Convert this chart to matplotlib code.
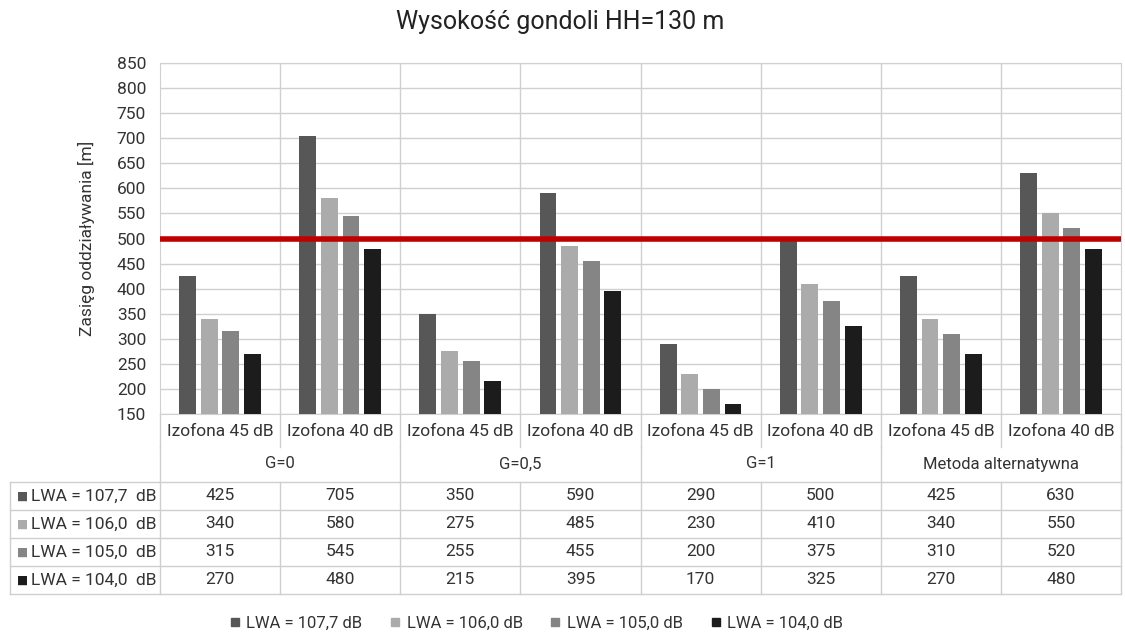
import matplotlib.pyplot as plt
import matplotlib.transforms as mtransforms
import numpy as np

plt.rcParams['font.family'] = ['Roboto', 'DejaVu Sans']

# dane
kategorie = ['Izofona 45 dB', 'Izofona 40 dB'] * 4
grupy = ['G=0', 'G=0,5', 'G=1', 'Metoda alternatywna']
serie = ['LWA = 107,7  dB', 'LWA = 106,0  dB', 'LWA = 105,0  dB', 'LWA = 104,0  dB']
lwa_1077 = [425, 705, 350, 590, 290, 500, 425, 630]
lwa_1060 = [340, 580, 275, 485, 230, 410, 340, 550]
lwa_1050 = [315, 545, 255, 455, 200, 375, 310, 520]
lwa_1040 = [270, 480, 215, 395, 170, 325, 270, 480]
wartosci = [lwa_1077, lwa_1060, lwa_1050, lwa_1040]
kolory = ['#575757', '#ababab', '#858585', '#1c1c1c']
prog = 500

W, H = 1125, 637
fig = plt.figure(figsize=(W / 100, H / 100), dpi=100)
# obszar wykresu w pikselach: x 160-1121, y 63-414
ax = fig.add_axes([160 / W, (H - 414) / H, 961 / W, 351 / H])

x = np.arange(len(kategorie))
for i, (vals, kol) in enumerate(zip(wartosci, kolory)):
    ax.bar(x + (i - 1.5) * 0.18, np.array(vals) - 150, bottom=150, width=0.14,
           color=kol, zorder=3)

ax.axhline(prog, color='#c00000', linewidth=4, zorder=4)

ax.set_xlim(-0.5, len(kategorie) - 0.5)
ax.set_ylim(150, 850)
ax.set_yticks(np.arange(150, 851, 50))
ax.set_xticks([])
ax.tick_params(axis='y', length=0, labelsize=12.5, labelcolor='#333333', pad=10)
ax.grid(axis='y', color='#d0d0d0', linewidth=1, zorder=0)
for b in np.arange(0.5, len(kategorie) - 0.5, 1):
    ax.axvline(b, color='#d0d0d0', linewidth=1, zorder=0)
for s in ax.spines.values():
    s.set_color('#d0d0d0')
ax.set_ylabel('Zasięg oddziaływania [m]', fontsize=12.5, color='#333333', labelpad=16)

fig.text(560 / W, 1 - 22 / H, 'Wysokość gondoli HH=130 m', ha='center', va='center',
         fontsize=18, color='#222222')

# tabela pod wykresem (x w danych, y w pikselach figury)
tr = mtransforms.blended_transform_factory(ax.transData, fig.transFigure)


def fy(py):
    return 1 - py / H


fs = 12.5
lc = '#cfcfcf'
lw = 1
# wiersz kategorii
for i, k in enumerate(kategorie):
    ax.text(i, fy(431), k, transform=tr, ha='center', va='center', fontsize=fs, color='#333333')
for b in np.arange(-0.5, len(kategorie), 1):
    ax.plot([b, b], [fy(414), fy(447)], transform=tr, color=lc, lw=lw, clip_on=False)
# wiersz grup
for j, g in enumerate(grupy):
    ax.text(2 * j + 0.5, fy(464), g, transform=tr, ha='center', va='center', fontsize=fs - 0.5, color='#333333')
for b in np.arange(-0.5, len(kategorie), 2):
    ax.plot([b, b], [fy(447), fy(482)], transform=tr, color=lc, lw=lw, clip_on=False)
# wiersze danych
row_top = 482
row_h = 28
x_left_fig = 10 / W
for r in range(len(serie) + 1):
    yy = fy(row_top + r * row_h)
    fig.add_artist(plt.Line2D([x_left_fig, 1121 / W], [yy, yy], color=lc, lw=lw))
fig.add_artist(plt.Line2D([x_left_fig, x_left_fig], [fy(row_top), fy(row_top + 4 * row_h)], color=lc, lw=lw))
for b in np.arange(-0.5, len(kategorie), 1):
    ax.plot([b, b], [fy(row_top), fy(row_top + 4 * row_h)], transform=tr, color=lc, lw=lw, clip_on=False)
for r, (nazwa, vals, kol) in enumerate(zip(serie, wartosci, kolory)):
    yc = fy(row_top + (r + 0.5) * row_h)
    fig.text(17 / W, yc, '■', ha='left', va='center', fontsize=8.5,
             color=kol, family='DejaVu Sans')
    fig.text(31 / W, yc, nazwa, ha='left', va='center', fontsize=fs, color='#333333')
    for i, v in enumerate(vals):
        ax.text(i, yc, str(v), transform=tr, ha='center', va='center', fontsize=fs, color='#333333')

# legenda
uchwyty = [plt.Line2D([], [], marker='s', linestyle='', markersize=6, color=k) for k in kolory]
fig.legend(uchwyty, [s.replace('  ', ' ') for s in serie], loc='center',
           bbox_to_anchor=(534 / W, fy(623)), ncol=4, frameon=False, fontsize=12,
           handletextpad=0.1, handlelength=1.2, columnspacing=1.35, labelcolor='#333333')

fig.savefig('out.png', dpi=100)
